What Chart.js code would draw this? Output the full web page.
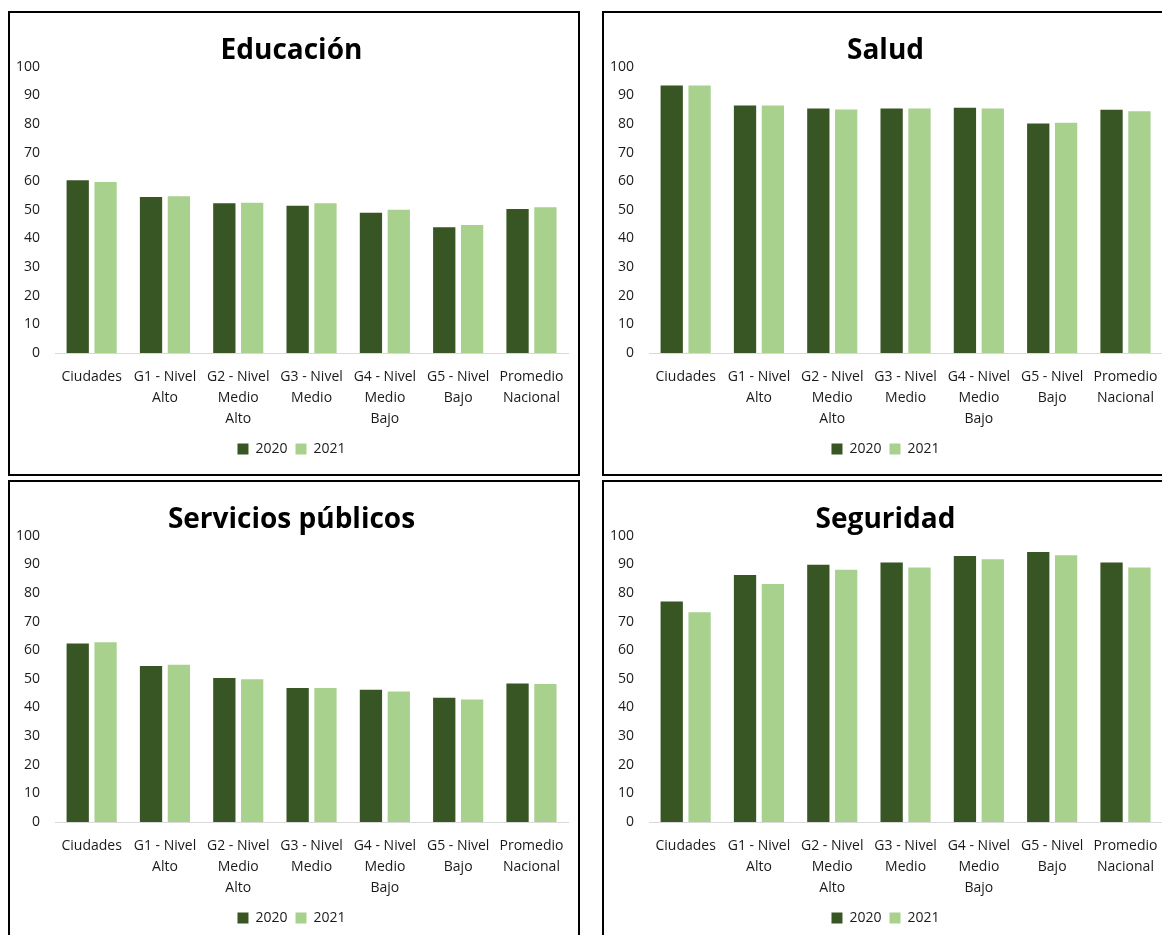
<!DOCTYPE html>
<html>
<head>
<meta charset="utf-8">
<script src="https://cdn.jsdelivr.net/npm/chart.js@4"></script>
<style>
  html, body { margin: 0; padding: 0; background: #fff; overflow: hidden; }
  body { width: 1162px; height: 935px; position: relative; }
  .panel {
    position: absolute;
    width: 568px;
    height: 461px;
    border: 2px solid #000;
    background: #fff;
  }
  .panel canvas { display: block; }
</style>
</head>
<body>
<div class="panel" style="left:8px; top:11px;"><canvas id="chartEdu" width="568" height="461"></canvas></div>
<div class="panel" style="left:602px; top:11px;"><canvas id="chartSalud" width="568" height="461"></canvas></div>
<div class="panel" style="left:8px; top:480px;"><canvas id="chartServ" width="568" height="461"></canvas></div>
<div class="panel" style="left:602px; top:480px;"><canvas id="chartSeg" width="568" height="461"></canvas></div>

<script>
const categories = [
  "Ciudades",
  ["G1 - Nivel", "Alto"],
  ["G2 - Nivel", "Medio", "Alto"],
  ["G3 - Nivel", "Medio"],
  ["G4 - Nivel", "Medio", "Bajo"],
  ["G5 - Nivel", "Bajo"],
  ["Promedio", "Nacional"]
];
const yTicks = [0, 10, 20, 30, 40, 50, 60, 70, 80, 90, 100];
const seriesNames = ["2020", "2021"];

const edu2020 = [60.3, 54.5, 52.3, 51.4, 49.0, 43.9, 50.3];
const edu2021 = [59.7, 54.7, 52.5, 52.3, 50.0, 44.7, 50.9];

const salud2020 = [93.4, 86.4, 85.4, 85.4, 85.6, 80.1, 84.9];
const salud2021 = [93.4, 86.4, 85.0, 85.4, 85.4, 80.4, 84.4];

const serv2020 = [62.3, 54.5, 50.3, 46.8, 46.2, 43.4, 48.4];
const serv2021 = [62.8, 54.9, 49.8, 46.8, 45.6, 42.8, 48.2];

const seg2020 = [77.0, 86.2, 89.8, 90.6, 92.9, 94.3, 90.6];
const seg2021 = [73.2, 83.1, 88.1, 88.9, 91.7, 93.1, 88.9];

const DARK = "#375623";
const LIGHT = "#A9D18E";
const TEXT = "#1a1a1a";
const FONT = "'Open Sans', 'Noto Sans', sans-serif";

function makeChart(id, title, a, b) {
  const ctx = document.getElementById(id).getContext("2d");
  return new Chart(ctx, {
    type: "bar",
    data: {
      labels: categories,
      datasets: [
        { label: seriesNames[0], data: a, backgroundColor: DARK, categoryPercentage: 0.76, barPercentage: 0.8 },
        { label: seriesNames[1], data: b, backgroundColor: LIGHT, categoryPercentage: 0.76, barPercentage: 0.8 }
      ]
    },
    options: {
      responsive: false,
      animation: false,
      devicePixelRatio: 1,
      layout: { padding: { left: 3, right: 8, top: 0, bottom: 8 } },
      plugins: {
        title: {
          display: true,
          text: title,
          color: "#000",
          font: { family: FONT, size: 28, weight: "bold", lineHeight: 1.2 },
          padding: { top: 21, bottom: -1 }
        },
        legend: {
          position: "bottom",
          labels: {
            color: TEXT,
            font: { family: FONT, size: 14 },
            boxWidth: 11,
            boxHeight: 11,
            padding: 8
          }
        },
        tooltip: { enabled: false }
      },
      scales: {
        x: {
          grid: { display: false, drawTicks: false },
          border: { display: true, color: "#D9D9D9", width: 1 },
          afterFit: (s) => { s.height = 81; },
          ticks: {
            color: TEXT,
            font: { family: FONT, size: 14, lineHeight: 1.5 },
            maxRotation: 0,
            autoSkip: false,
            padding: 14
          }
        },
        y: {
          min: 0,
          max: 100,
          grid: { display: false, drawTicks: false },
          border: { display: false },
          afterFit: (s) => { s.width = 42; },
          afterBuildTicks: (s) => { s.ticks = yTicks.map(v => ({ value: v })); },
          ticks: {
            color: TEXT,
            font: { family: FONT, size: 14 },
            padding: 15
          }
        }
      }
    }
  });
}

makeChart("chartEdu", "Educación", edu2020, edu2021);
makeChart("chartSalud", "Salud", salud2020, salud2021);
makeChart("chartServ", "Servicios públicos", serv2020, serv2021);
makeChart("chartSeg", "Seguridad", seg2020, seg2021);
</script>
</body>
</html>
